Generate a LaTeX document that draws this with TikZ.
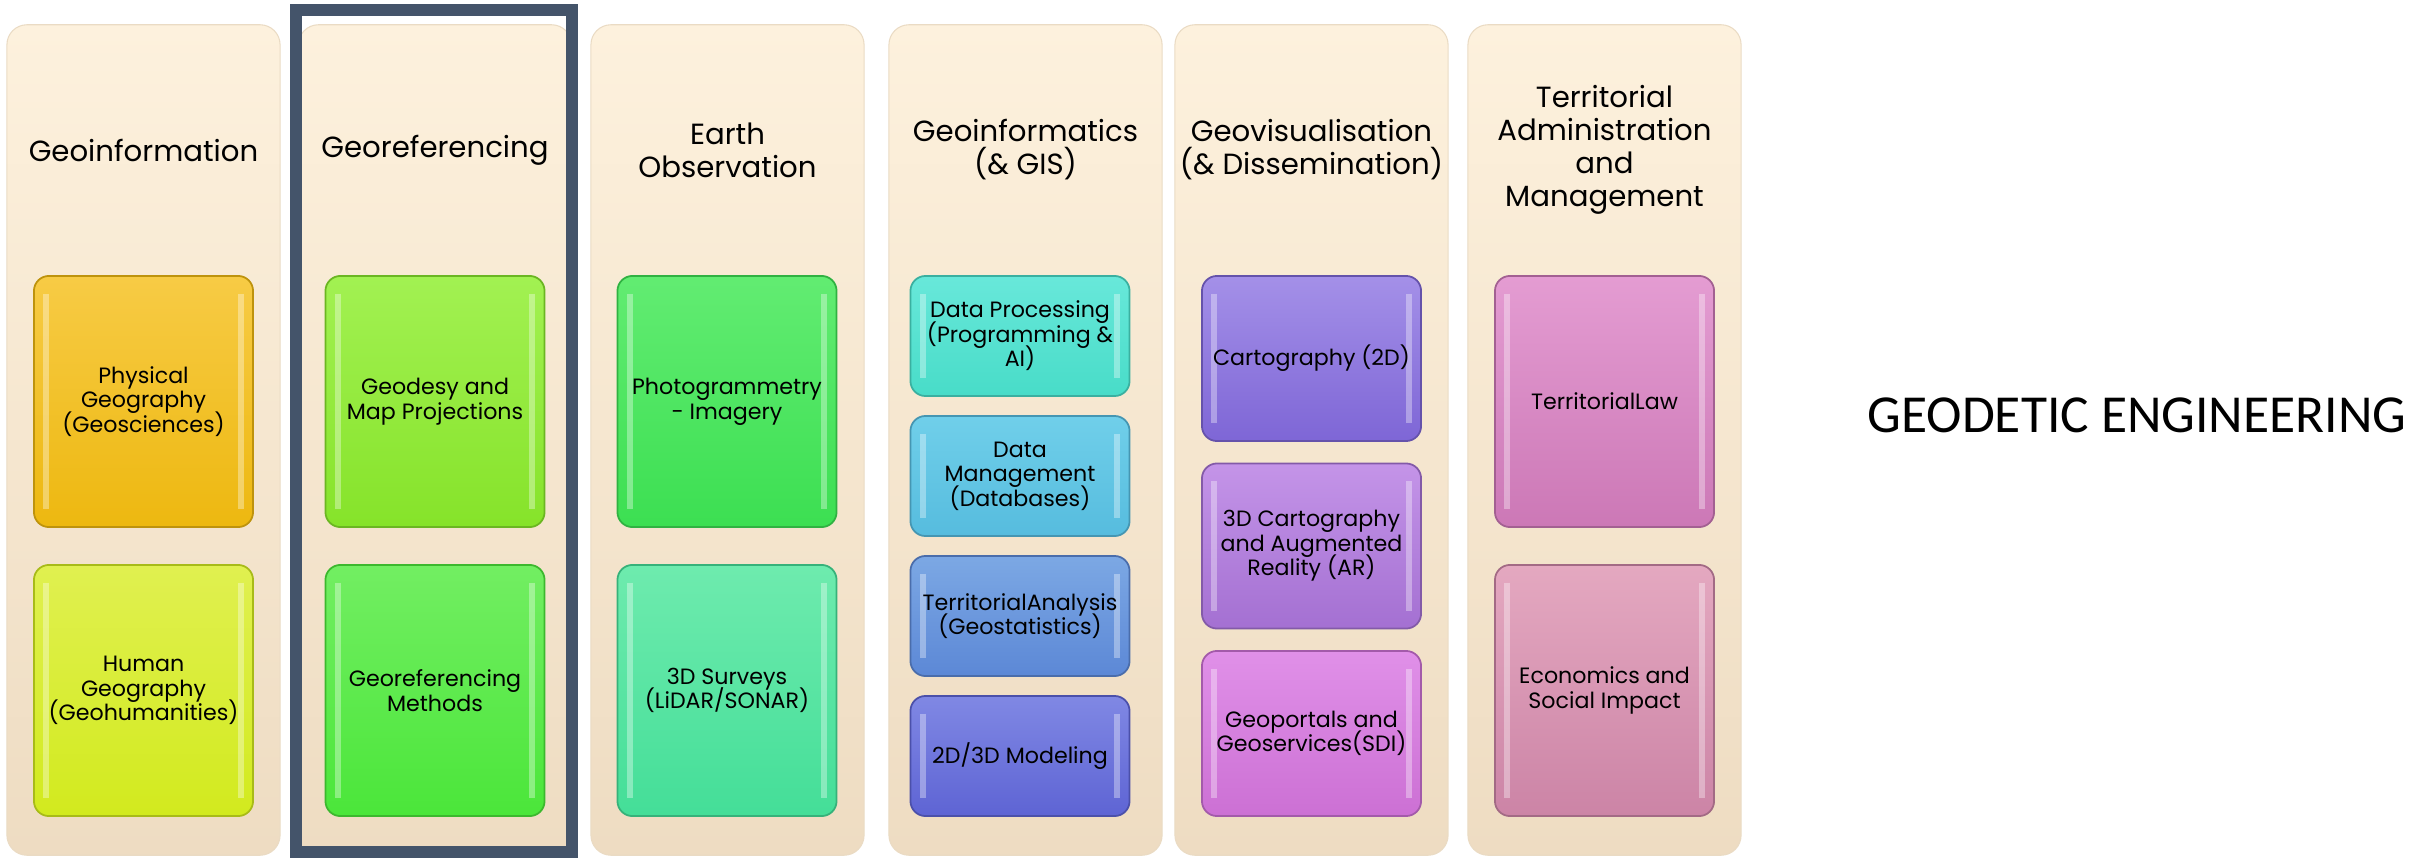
\documentclass[tikz,border=0pt]{standalone}
\usepackage{fontspec}
\setmainfont{Poppins}
\newfontfamily\bannerfont{Carlito}
\usetikzlibrary{positioning}

\definecolor{colTop}{HTML}{FDF1DD}
\definecolor{colBot}{HTML}{EEDCC2}
\definecolor{colEdge}{HTML}{EADBC4}
\definecolor{frameBlue}{HTML}{44546A}
\definecolor{physTop}{HTML}{F7CB45}
\definecolor{physBot}{HTML}{EDB810}
\definecolor{humTop}{HTML}{E0F050}
\definecolor{humBot}{HTML}{D2EA1E}
\definecolor{geodTop}{HTML}{A2F152}
\definecolor{geodBot}{HTML}{86E32A}
\definecolor{georTop}{HTML}{72EE62}
\definecolor{georBot}{HTML}{4BE63A}
\definecolor{photTop}{HTML}{62EC72}
\definecolor{photBot}{HTML}{3CDF52}
\definecolor{survTop}{HTML}{6EEBAE}
\definecolor{survBot}{HTML}{44DE98}
\definecolor{procTop}{HTML}{68E8DA}
\definecolor{procBot}{HTML}{48DCC8}
\definecolor{mgmtTop}{HTML}{70CFEA}
\definecolor{mgmtBot}{HTML}{56BCDE}
\definecolor{analTop}{HTML}{7CA8E4}
\definecolor{analBot}{HTML}{5C88D6}
\definecolor{modTop}{HTML}{8088E4}
\definecolor{modBot}{HTML}{5E64D4}
\definecolor{cartTop}{HTML}{A490E8}
\definecolor{cartBot}{HTML}{7E66D6}
\definecolor{arTop}{HTML}{C494E8}
\definecolor{arBot}{HTML}{A470D2}
\definecolor{sdiTop}{HTML}{E090E8}
\definecolor{sdiBot}{HTML}{CC70D4}
\definecolor{lawTop}{HTML}{E49CD2}
\definecolor{lawBot}{HTML}{CC78B6}
\definecolor{ecoTop}{HTML}{E4A8C0}
\definecolor{ecoBot}{HTML}{CC84A6}

\begin{document}
\begin{tikzpicture}
    [
      x = 0.01cm, y = -0.01cm,
      column/.style = {rounded corners = 0.2cm, minimum width = 2.73cm, minimum height = 8.3cm,
          top color = colTop, bottom color = colBot, draw = colEdge, line width = 0.3pt},
      heading/.style = {font = {\fontsize{8.3}{9.4}\selectfont\lineskiplimit=-9pt}, align = center},
      topic/.style 2 args = {rounded corners = 0.15cm, minimum width = 2.19cm,
          top color = #1, bottom color = #2, draw = #2!80!black, line width = 0.5pt,
          font = {\fontsize{6.3}{7}\selectfont\lineskiplimit=-9pt}, align = center, inner sep = 1pt,
          path picture = {\draw[white, opacity = 0.35, line width = 1.6pt]
              ([shift = {(3.5pt,-5pt)}]path picture bounding box.north west) --
              ([shift = {(3.5pt,5pt)}]path picture bounding box.south west)
              ([shift = {(-3.5pt,-5pt)}]path picture bounding box.north east) --
              ([shift = {(-3.5pt,5pt)}]path picture bounding box.south east);}},
      frame/.style = {draw = frameBlue, line width = 0.12cm},
    ]

    \useasboundingbox (0,0) rectangle (2413,858);

    % columns
    \node[column] (geoinfo) at (143.5,440) {};
    \node[column] (georef) at (435,440) {};
    \node[column] (earthobs) at (727.5,440) {};
    \node[column] (geoinf) at (1025.5,440) {};
    \node[column] (geovis) at (1311.5,440) {};
    \node[column] (territ) at (1604.5,440) {};

    \node[heading] (geoinfoH) at (143.5,150) {Geoinformation};
    \node[heading] (georefH) at (435,150) {Georeferencing};
    \node[heading] (earthobsH) at (727.5,150) {Earth\\Observation};
    \node[heading] (geoinfH) at (1025.5,150) {Geoinformatics\\(\& GIS)};
    \node[heading] (geovisH) at (1311.5,150) {Geovisualisation\\(\& Dissemination)};
    \node[heading] (territH) at (1604.5,150) {Territorial\\Administration\\and\\Management};

    % topics
    \node[topic={physTop}{physBot}, minimum height = 2.51cm] (phys) at (143.5,401.5) {Physical\\Geography\\(Geosciences)};
    \node[topic={humTop}{humBot}, minimum height = 2.51cm] (hum) at (143.5,690.5) {Human\\Geography\\(Geohumanities)};

    \node[topic={geodTop}{geodBot}, minimum height = 2.51cm] (geod) at (435,401.5) {Geodesy and\\Map Projections};
    \node[topic={georTop}{georBot}, minimum height = 2.51cm] (gmeth) at (435,690.5) {Georeferencing\\Methods};

    \node[topic={photTop}{photBot}, minimum height = 2.51cm] (photo) at (727,401.5) {Photogrammetry\\- Imagery};
    \node[topic={survTop}{survBot}, minimum height = 2.51cm] (surv) at (727,690.5) {3D Surveys\\(LiDAR/SONAR)};

    \node[topic={procTop}{procBot}, minimum height = 1.2cm] (proc) at (1020,336) {Data Processing\\(Programming \&\\AI)};
    \node[topic={mgmtTop}{mgmtBot}, minimum height = 1.2cm] (mgmt) at (1020,476) {Data\\Management\\(Databases)};
    \node[topic={analTop}{analBot}, minimum height = 1.2cm] (anal) at (1020,616) {TerritorialAnalysis\\(Geostatistics)};
    \node[topic={modTop}{modBot}, minimum height = 1.2cm] (model) at (1020,756) {2D/3D Modeling};

    \node[topic={cartTop}{cartBot}, minimum height = 1.65cm] (carto) at (1311.5,358.5) {Cartography (2D)};
    \node[topic={arTop}{arBot}, minimum height = 1.65cm] (ar) at (1311.5,546) {3D Cartography\\and Augmented\\Reality (AR)};
    \node[topic={sdiTop}{sdiBot}, minimum height = 1.65cm] (sdi) at (1311.5,733.5) {Geoportals and\\Geoservices(SDI)};

    \node[topic={lawTop}{lawBot}, minimum height = 2.51cm] (law) at (1604.5,401.5) {TerritorialLaw};
    \node[topic={ecoTop}{ecoBot}, minimum height = 2.51cm] (eco) at (1604.5,690.5) {Economics and\\Social Impact};

    % highlighted column
    \draw[frame] (296,10) rectangle (572,852);

    \node[font = \bannerfont\fontsize{15.2}{18}\selectfont] (banner) at (2137,415) {GEODETIC ENGINEERING};

  \end{tikzpicture}
\end{document}
